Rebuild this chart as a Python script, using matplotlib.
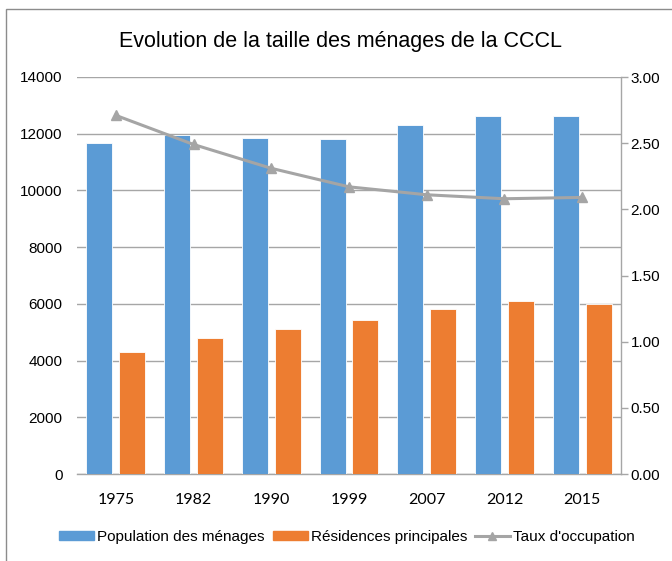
import matplotlib
matplotlib.use('Agg')
import matplotlib.pyplot as plt
from matplotlib.patches import Rectangle
from matplotlib.lines import Line2D
from matplotlib.patches import Patch
import numpy as np

years = ['1975', '1982', '1990', '1999', '2007', '2012', '2015']
population = [11680, 11960, 11860, 11800, 12320, 12640, 12640]
residences = [4310, 4810, 5125, 5420, 5820, 6090, 6005]
taux = [2.71, 2.49, 2.31, 2.17, 2.11, 2.08, 2.09]

left_ticks = [0, 2000, 4000, 6000, 8000, 10000, 12000, 14000]
right_ticks = [0.0, 0.5, 1.0, 1.5, 2.0, 2.5, 3.0]

BLUE = '#5B9BD5'
ORANGE = '#ED7D31'
GREY = '#A5A5A5'
GRID = '#A6A6A6'

plt.rcParams['font.family'] = ['Liberation Sans', 'DejaVu Sans']

fig = plt.figure(figsize=(6.72, 5.61), dpi=100)
W, H = 672, 561
ax = fig.add_axes([77 / W, 1 - 474 / H, (621 - 77) / W, (474 - 77) / H])

x = np.arange(len(years))
bw = 0.335
ax.bar(x - 0.212, population, bw, color=BLUE, edgecolor='white', linewidth=0.6, zorder=3)
ax.bar(x + 0.212, residences, bw, color=ORANGE, edgecolor='white', linewidth=0.6, zorder=3)

ax.set_xlim(-0.5, len(years) - 0.5)
ax.set_ylim(0, 14000)
ax.set_yticks(left_ticks)
ax.set_yticklabels([str(t) for t in left_ticks], fontsize=11, color='#000000')
ax.set_xticks(x)
ax.set_xticklabels(years, fontsize=11.5, family=['Lato', 'DejaVu Sans'])
ax.tick_params(axis='x', length=0, pad=14)
ax.tick_params(axis='y', length=0, pad=10.5)
ax.grid(axis='y', color=GRID, linewidth=1.0, zorder=0)
for s in ['left', 'right', 'top']:
    ax.spines[s].set_visible(False)
ax.spines['bottom'].set_color(GRID)
ax.spines['bottom'].set_linewidth(1.0)

ax2 = ax.twinx()
ax2.plot(x, taux, color=GREY, linewidth=2.2, marker='^', markersize=7, zorder=5)
ax2.set_ylim(0, 3.0)
ax2.set_yticks(right_ticks)
ax2.set_yticklabels([f'{t:.2f}' for t in right_ticks], fontsize=11)
ax2.tick_params(axis='y', length=5, width=1, color=GRID, pad=2, direction='out')
for s in ['left', 'top', 'bottom']:
    ax2.spines[s].set_visible(False)
ax2.spines['right'].set_color(GRID)
ax2.spines['right'].set_linewidth(1.0)

fig.text(0.507, 1 - 41 / H, 'Evolution de la taille des ménages de la CCCL',
         ha='center', va='center', fontsize=15.5)

handles = [Patch(facecolor=BLUE, edgecolor=BLUE),
           Patch(facecolor=ORANGE, edgecolor=ORANGE),
           Line2D([], [], color=GREY, linewidth=2.2, marker='^', markersize=6)]
labels = ['Population des ménages', 'Résidences principales', "Taux d'occupation"]
fig.legend(handles, labels, loc='center', bbox_to_anchor=(347 / W, 1 - 537 / H),
           ncol=3, frameon=False, fontsize=11, handlelength=2.3, handleheight=0.6,
           handletextpad=0.2, columnspacing=0.5)

fig.add_artist(Rectangle((6 / W, -0.1), 1.2, 1 - 9 / H + 0.1, transform=fig.transFigure,
                         fill=False, edgecolor='#8C8C8C', linewidth=1.0))

fig.savefig('out.png', dpi=100)
